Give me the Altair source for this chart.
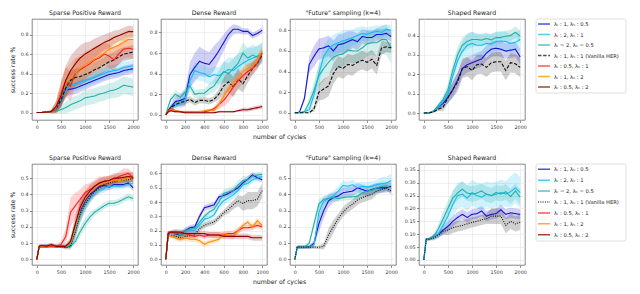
import altair as alt
import pandas as pd

# ---------------- shared values ----------------
X2K = [0, 50, 100, 200, 300, 400, 500, 600, 700, 800, 900, 1000, 1100, 1200, 1300, 1400, 1500, 1600, 1700, 1800, 1900, 2000]
X1K = [0, 25, 50, 100, 150, 200, 250, 300, 350, 400, 450, 500, 550, 600, 650, 700, 750, 800, 850, 900, 950, 1000]

SERIES = ["b", "lb", "t", "k", "r", "o", "dr"]
COLORS = ["#1414d2", "#12bdf5", "#22b0a6", "#111111", "#ff1a1a", "#ff8c00", "#8b0000"]
LABELS = ["λᵣ : 1, λₕ : 0.5", "λᵣ : 2, λₕ : 1", "λᵣ = 2, λₕ = 0.5",
          "λᵣ : 1, λₕ : 1 (Vanilla HER)", "λᵣ : 0.5, λₕ : 1", "λᵣ : 1, λₕ : 2", "λᵣ : 0.5, λₕ : 2"]
TITLES = ["Sparse Positive Reward", "Dense Reward", "\"Future\" sampling (k=4)", "Shaped Reward"]

# ---------------- row 1 : Sparse Positive Reward ----------------
s1_blue = [0, 0, 0, 0.005, 0.01, 0.04, 0.12, 0.23, 0.24, 0.25, 0.27, 0.29, 0.31, 0.33, 0.35, 0.37, 0.39, 0.40, 0.41, 0.43, 0.44, 0.45]
s1_lblue = [0, 0, 0, 0.005, 0.01, 0.04, 0.13, 0.22, 0.28, 0.29, 0.31, 0.33, 0.34, 0.36, 0.38, 0.40, 0.42, 0.43, 0.44, 0.46, 0.47, 0.48]
s1_teal = [0, 0, 0, 0.005, 0.01, 0.01, 0.03, 0.05, 0.08, 0.10, 0.12, 0.15, 0.16, 0.17, 0.19, 0.20, 0.22, 0.23, 0.25, 0.28, 0.27, 0.26]
s1_black = [0, 0, 0, 0.005, 0.01, 0.04, 0.13, 0.25, 0.33, 0.36, 0.37, 0.39, 0.41, 0.44, 0.46, 0.49, 0.52, 0.54, 0.57, 0.60, 0.61, 0.62]
s1_red = [0, 0, 0, 0.005, 0.01, 0.05, 0.20, 0.32, 0.27, 0.41, 0.44, 0.47, 0.50, 0.54, 0.56, 0.60, 0.58, 0.54, 0.60, 0.65, 0.66, 0.65]
s1_orange = [0, 0, 0, 0.005, 0.01, 0.05, 0.19, 0.30, 0.36, 0.41, 0.45, 0.49, 0.52, 0.55, 0.58, 0.61, 0.65, 0.67, 0.69, 0.72, 0.75, 0.75]
s1_dred = [0, 0, 0, 0.005, 0.01, 0.06, 0.17, 0.33, 0.43, 0.50, 0.56, 0.60, 0.63, 0.66, 0.69, 0.72, 0.74, 0.77, 0.79, 0.81, 0.83, 0.83]
s1_blue_sd = [0, 0, 0, 0, 0.01, 0.03, 0.05, 0.06, 0.06, 0.06, 0.06, 0.06, 0.05, 0.05, 0.05, 0.05, 0.05, 0.05, 0.05, 0.05, 0.05, 0.05]
s1_lblue_sd = [0, 0, 0, 0, 0.01, 0.03, 0.06, 0.07, 0.07, 0.07, 0.07, 0.07, 0.06, 0.06, 0.06, 0.06, 0.06, 0.06, 0.06, 0.06, 0.06, 0.06]
s1_teal_sd = [0, 0, 0, 0, 0.01, 0.02, 0.04, 0.06, 0.07, 0.07, 0.07, 0.08, 0.08, 0.08, 0.08, 0.08, 0.08, 0.08, 0.09, 0.09, 0.09, 0.09]
s1_black_sd = [0, 0, 0, 0, 0.01, 0.04, 0.08, 0.10, 0.10, 0.09, 0.09, 0.08, 0.08, 0.08, 0.08, 0.08, 0.08, 0.08, 0.08, 0.07, 0.07, 0.07]
s1_red_sd = [0, 0, 0, 0, 0.02, 0.06, 0.12, 0.15, 0.15, 0.14, 0.13, 0.12, 0.12, 0.12, 0.12, 0.12, 0.12, 0.12, 0.10, 0.10, 0.10, 0.10]
s1_orange_sd = [0, 0, 0, 0, 0.02, 0.06, 0.12, 0.15, 0.15, 0.15, 0.14, 0.14, 0.13, 0.13, 0.12, 0.12, 0.12, 0.11, 0.10, 0.10, 0.10, 0.10]
s1_dred_sd = [0, 0, 0, 0, 0.02, 0.06, 0.12, 0.15, 0.15, 0.14, 0.13, 0.12, 0.10, 0.10, 0.09, 0.08, 0.08, 0.07, 0.06, 0.06, 0.06, 0.06]

# ---------------- row 1 : Dense Reward ----------------
d1_blue = [0, 0.04, 0.07, 0.13, 0.14, 0.16, 0.39, 0.46, 0.52, 0.50, 0.49, 0.55, 0.62, 0.70, 0.78, 0.83, 0.83, 0.81, 0.81, 0.77, 0.79, 0.82]
d1_lblue = [0, 0.03, 0.06, 0.10, 0.11, 0.15, 0.33, 0.43, 0.41, 0.40, 0.37, 0.39, 0.38, 0.41, 0.44, 0.43, 0.47, 0.50, 0.53, 0.55, 0.57, 0.60]
d1_teal = [0, 0.08, 0.15, 0.20, 0.17, 0.22, 0.28, 0.20, 0.21, 0.21, 0.25, 0.28, 0.35, 0.42, 0.40, 0.45, 0.50, 0.60, 0.55, 0.58, 0.56, 0.60]
d1_black = [0, 0.04, 0.07, 0.10, 0.12, 0.13, 0.15, 0.12, 0.14, 0.14, 0.13, 0.15, 0.20, 0.28, 0.32, 0.27, 0.35, 0.30, 0.38, 0.45, 0.50, 0.58]
d1_red = [0, 0.04, 0.06, 0.04, 0.03, 0.03, 0.03, 0.03, 0.03, 0.03, 0.04, 0.06, 0.10, 0.14, 0.20, 0.27, 0.33, 0.38, 0.42, 0.45, 0.50, 0.60]
d1_orange = [0, 0.03, 0.05, 0.04, 0.03, 0.03, 0.03, 0.03, 0.03, 0.04, 0.05, 0.04, 0.10, 0.18, 0.25, 0.30, 0.35, 0.42, 0.45, 0.47, 0.54, 0.62]
d1_dred = [0, 0.03, 0.04, 0.03, 0.03, 0.02, 0.02, 0.02, 0.02, 0.02, 0.02, 0.02, 0.03, 0.03, 0.03, 0.03, 0.04, 0.05, 0.05, 0.06, 0.07, 0.08]
d1_blue_sd = [0, 0.02, 0.03, 0.05, 0.06, 0.08, 0.12, 0.14, 0.14, 0.13, 0.12, 0.12, 0.10, 0.08, 0.06, 0.05, 0.04, 0.03, 0.03, 0.03, 0.03, 0.03]
d1_lblue_sd = [0, 0.02, 0.03, 0.04, 0.05, 0.06, 0.08, 0.08, 0.08, 0.08, 0.08, 0.08, 0.08, 0.10, 0.12, 0.12, 0.12, 0.12, 0.12, 0.10, 0.10, 0.10]
d1_teal_sd = [0, 0.02, 0.03, 0.04, 0.04, 0.04, 0.05, 0.04, 0.04, 0.04, 0.05, 0.06, 0.08, 0.10, 0.10, 0.10, 0.10, 0.10, 0.10, 0.10, 0.10, 0.10]
d1_black_sd = [0, 0.01, 0.02, 0.03, 0.03, 0.03, 0.03, 0.03, 0.03, 0.03, 0.03, 0.03, 0.05, 0.08, 0.10, 0.10, 0.10, 0.08, 0.07, 0.06, 0.05, 0.05]
d1_red_sd = [0, 0.01, 0.02, 0.01, 0.01, 0.01, 0.01, 0.01, 0.01, 0.01, 0.01, 0.02, 0.04, 0.06, 0.08, 0.08, 0.08, 0.07, 0.07, 0.06, 0.06, 0.05]
d1_orange_sd = [0, 0.01, 0.02, 0.01, 0.01, 0.01, 0.01, 0.01, 0.01, 0.01, 0.01, 0.02, 0.03, 0.04, 0.05, 0.05, 0.05, 0.05, 0.05, 0.05, 0.05, 0.05]
d1_dred_sd = [0, 0.01, 0.01, 0.01, 0.01, 0.01, 0.01, 0.01, 0.01, 0.01, 0.01, 0.01, 0.01, 0.01, 0.01, 0.01, 0.01, 0.02, 0.02, 0.02, 0.02, 0.02]

# ---------------- row 1 : "Future" sampling ----------------
f1_blue = [0, 0, 0.01, 0.14, 0.47, 0.55, 0.62, 0.63, 0.65, 0.60, 0.66, 0.67, 0.69, 0.71, 0.69, 0.74, 0.73, 0.73, 0.76, 0.76, 0.77, 0.74]
f1_lblue = [0, 0, 0, 0.01, 0.03, 0.18, 0.38, 0.55, 0.62, 0.66, 0.68, 0.70, 0.71, 0.73, 0.75, 0.77, 0.76, 0.78, 0.79, 0.78, 0.81, 0.80]
f1_teal = [0, 0, 0, 0.01, 0.10, 0.22, 0.36, 0.43, 0.49, 0.54, 0.56, 0.57, 0.61, 0.60, 0.60, 0.63, 0.67, 0.68, 0.68, 0.71, 0.71, 0.63]
f1_black = [0, 0, 0, 0, 0, 0.04, 0.20, 0.23, 0.26, 0.38, 0.45, 0.43, 0.47, 0.46, 0.49, 0.51, 0.49, 0.52, 0.46, 0.63, 0.64, 0.63]
f1_blue_sd = [0, 0, 0.01, 0.03, 0.08, 0.10, 0.10, 0.10, 0.10, 0.10, 0.10, 0.10, 0.10, 0.08, 0.08, 0.07, 0.07, 0.06, 0.06, 0.05, 0.05, 0.05]
f1_lblue_sd = [0, 0, 0, 0.01, 0.03, 0.08, 0.10, 0.10, 0.10, 0.10, 0.10, 0.10, 0.09, 0.08, 0.08, 0.07, 0.07, 0.06, 0.06, 0.06, 0.05, 0.05]
f1_teal_sd = [0, 0, 0, 0.01, 0.05, 0.08, 0.10, 0.12, 0.12, 0.12, 0.12, 0.12, 0.12, 0.12, 0.12, 0.12, 0.12, 0.12, 0.13, 0.14, 0.15, 0.15]
f1_black_sd = [0, 0, 0, 0, 0, 0.03, 0.08, 0.10, 0.10, 0.10, 0.10, 0.10, 0.10, 0.10, 0.09, 0.09, 0.09, 0.09, 0.09, 0.07, 0.05, 0.05]

# ---------------- row 1 : Shaped Reward ----------------
h1_blue = [0, 0, 0, 0.01, 0.03, 0.05, 0.08, 0.12, 0.17, 0.23, 0.25, 0.26, 0.27, 0.28, 0.31, 0.33, 0.335, 0.33, 0.32, 0.325, 0.33, 0.29]
h1_lblue = [0, 0, 0, 0.01, 0.03, 0.06, 0.10, 0.19, 0.27, 0.32, 0.35, 0.36, 0.35, 0.35, 0.36, 0.357, 0.37, 0.372, 0.37, 0.36, 0.365, 0.38]
h1_teal = [0, 0, 0, 0.01, 0.04, 0.07, 0.12, 0.22, 0.30, 0.35, 0.37, 0.38, 0.38, 0.377, 0.385, 0.378, 0.39, 0.39, 0.397, 0.40, 0.418, 0.397]
h1_black = [0, 0, 0, 0.005, 0.02, 0.03, 0.08, 0.12, 0.16, 0.23, 0.24, 0.22, 0.25, 0.253, 0.236, 0.26, 0.265, 0.265, 0.22, 0.26, 0.255, 0.236]
h1_blue_sd = [0, 0, 0, 0.005, 0.01, 0.02, 0.03, 0.04, 0.04, 0.04, 0.04, 0.04, 0.04, 0.04, 0.04, 0.04, 0.04, 0.04, 0.04, 0.04, 0.04, 0.04]
h1_lblue_sd = [0, 0, 0, 0.005, 0.01, 0.02, 0.03, 0.04, 0.05, 0.05, 0.06, 0.06, 0.06, 0.06, 0.05, 0.05, 0.05, 0.05, 0.05, 0.05, 0.05, 0.05]
h1_teal_sd = [0, 0, 0, 0.005, 0.01, 0.02, 0.03, 0.04, 0.04, 0.04, 0.04, 0.04, 0.03, 0.03, 0.03, 0.03, 0.03, 0.03, 0.03, 0.03, 0.03, 0.03]
h1_black_sd = [0, 0, 0, 0.005, 0.01, 0.02, 0.03, 0.04, 0.05, 0.05, 0.05, 0.05, 0.05, 0.05, 0.05, 0.05, 0.05, 0.05, 0.05, 0.05, 0.05, 0.05]

# ---------------- row 2 : Sparse Positive Reward ----------------
s2_blue = [0, 0.08, 0.08, 0.085, 0.08, 0.08, 0.08, 0.08, 0.10, 0.20, 0.30, 0.36, 0.40, 0.42, 0.45, 0.455, 0.445, 0.46, 0.46, 0.46, 0.47, 0.44]
s2_lblue = [0, 0.08, 0.08, 0.08, 0.08, 0.08, 0.08, 0.08, 0.09, 0.17, 0.27, 0.33, 0.37, 0.41, 0.43, 0.44, 0.45, 0.45, 0.45, 0.455, 0.46, 0.47]
s2_teal = [0, 0.08, 0.08, 0.08, 0.08, 0.08, 0.08, 0.08, 0.08, 0.11, 0.17, 0.22, 0.26, 0.29, 0.31, 0.33, 0.345, 0.345, 0.355, 0.37, 0.385, 0.375]
s2_black = [0, 0.08, 0.08, 0.08, 0.09, 0.08, 0.08, 0.07, 0.08, 0.17, 0.28, 0.34, 0.38, 0.42, 0.44, 0.46, 0.47, 0.477, 0.485, 0.487, 0.49, 0.50]
s2_red = [0, 0.08, 0.08, 0.08, 0.08, 0.08, 0.09, 0.14, 0.29, 0.33, 0.37, 0.41, 0.43, 0.45, 0.47, 0.48, 0.485, 0.49, 0.51, 0.52, 0.53, 0.50]
s2_orange = [0, 0.08, 0.08, 0.08, 0.085, 0.08, 0.08, 0.08, 0.10, 0.19, 0.31, 0.37, 0.41, 0.44, 0.46, 0.47, 0.48, 0.49, 0.485, 0.49, 0.50, 0.51]
s2_dred = [0, 0.08, 0.085, 0.08, 0.09, 0.08, 0.08, 0.08, 0.11, 0.22, 0.32, 0.38, 0.42, 0.45, 0.47, 0.48, 0.485, 0.50, 0.50, 0.505, 0.51, 0.505]
s2_blue_sd = [0, 0.01, 0.01, 0.01, 0.01, 0.01, 0.01, 0.01, 0.02, 0.04, 0.05, 0.04, 0.03, 0.03, 0.03, 0.03, 0.02, 0.02, 0.02, 0.02, 0.02, 0.02]
s2_lblue_sd = [0, 0.01, 0.01, 0.01, 0.01, 0.01, 0.01, 0.01, 0.02, 0.04, 0.05, 0.04, 0.03, 0.03, 0.03, 0.03, 0.02, 0.02, 0.02, 0.02, 0.02, 0.02]
s2_teal_sd = [0, 0.01, 0.01, 0.01, 0.01, 0.01, 0.01, 0.01, 0.01, 0.02, 0.03, 0.03, 0.03, 0.02, 0.02, 0.02, 0.02, 0.02, 0.02, 0.02, 0.02, 0.02]
s2_black_sd = [0, 0.01, 0.01, 0.01, 0.01, 0.01, 0.01, 0.01, 0.02, 0.04, 0.05, 0.04, 0.03, 0.03, 0.03, 0.03, 0.02, 0.02, 0.02, 0.02, 0.02, 0.02]
s2_red_sd = [0, 0.01, 0.01, 0.01, 0.01, 0.01, 0.02, 0.05, 0.09, 0.08, 0.06, 0.05, 0.04, 0.04, 0.04, 0.03, 0.03, 0.03, 0.03, 0.04, 0.03, 0.03]
s2_orange_sd = [0, 0.01, 0.01, 0.01, 0.01, 0.01, 0.01, 0.01, 0.03, 0.05, 0.05, 0.04, 0.04, 0.03, 0.03, 0.03, 0.03, 0.03, 0.03, 0.03, 0.03, 0.03]
s2_dred_sd = [0, 0.01, 0.01, 0.01, 0.01, 0.01, 0.01, 0.01, 0.03, 0.05, 0.05, 0.04, 0.04, 0.03, 0.03, 0.03, 0.03, 0.03, 0.03, 0.03, 0.03, 0.03]

# ---------------- row 2 : Dense Reward ----------------
d2_blue = [0, 0.18, 0.19, 0.18, 0.17, 0.20, 0.22, 0.226, 0.30, 0.36, 0.37, 0.38, 0.435, 0.446, 0.46, 0.48, 0.50, 0.534, 0.56, 0.59, 0.57, 0.556]
d2_lblue = [0, 0.18, 0.18, 0.18, 0.18, 0.19, 0.20, 0.20, 0.24, 0.28, 0.29, 0.31, 0.37, 0.41, 0.43, 0.45, 0.48, 0.52, 0.53, 0.556, 0.567, 0.58]
d2_teal = [0, 0.18, 0.19, 0.19, 0.17, 0.20, 0.21, 0.215, 0.26, 0.30, 0.33, 0.35, 0.40, 0.46, 0.47, 0.48, 0.52, 0.55, 0.556, 0.58, 0.59, 0.593]
d2_black = [0, 0.17, 0.17, 0.16, 0.15, 0.16, 0.165, 0.17, 0.215, 0.237, 0.25, 0.26, 0.29, 0.325, 0.35, 0.38, 0.41, 0.39, 0.41, 0.41, 0.42, 0.48]
d2_red = [0, 0.19, 0.19, 0.18, 0.18, 0.18, 0.17, 0.16, 0.17, 0.16, 0.17, 0.17, 0.17, 0.17, 0.18, 0.18, 0.20, 0.22, 0.22, 0.226, 0.237, 0.226]
d2_orange = [0, 0.17, 0.16, 0.15, 0.14, 0.15, 0.14, 0.14, 0.13, 0.105, 0.12, 0.13, 0.14, 0.18, 0.17, 0.16, 0.20, 0.237, 0.26, 0.226, 0.27, 0.237]
d2_dred = [0, 0.18, 0.19, 0.19, 0.19, 0.18, 0.18, 0.18, 0.18, 0.18, 0.17, 0.17, 0.17, 0.16, 0.16, 0.16, 0.16, 0.16, 0.16, 0.15, 0.15, 0.15]
d2_blue_sd = [0, 0.01, 0.01, 0.02, 0.02, 0.02, 0.02, 0.02, 0.02, 0.02, 0.02, 0.02, 0.02, 0.02, 0.02, 0.02, 0.02, 0.02, 0.02, 0.02, 0.02, 0.02]
d2_lblue_sd = [0, 0.01, 0.01, 0.02, 0.02, 0.02, 0.02, 0.02, 0.02, 0.02, 0.02, 0.02, 0.02, 0.03, 0.03, 0.03, 0.03, 0.03, 0.03, 0.02, 0.02, 0.02]
d2_teal_sd = [0, 0.01, 0.01, 0.02, 0.02, 0.02, 0.02, 0.02, 0.02, 0.02, 0.02, 0.02, 0.02, 0.03, 0.03, 0.03, 0.03, 0.03, 0.03, 0.02, 0.02, 0.02]
d2_black_sd = [0, 0.01, 0.01, 0.02, 0.02, 0.02, 0.02, 0.02, 0.02, 0.02, 0.02, 0.02, 0.02, 0.02, 0.03, 0.03, 0.04, 0.05, 0.06, 0.06, 0.05, 0.05]
d2_red_sd = [0, 0.01, 0.01, 0.02, 0.02, 0.02, 0.02, 0.02, 0.02, 0.02, 0.02, 0.02, 0.02, 0.02, 0.02, 0.02, 0.02, 0.02, 0.02, 0.02, 0.02, 0.02]
d2_orange_sd = [0, 0.01, 0.01, 0.02, 0.02, 0.02, 0.02, 0.02, 0.02, 0.02, 0.02, 0.02, 0.02, 0.02, 0.02, 0.02, 0.02, 0.02, 0.02, 0.02, 0.02, 0.02]
d2_dred_sd = [0, 0.01, 0.01, 0.02, 0.02, 0.02, 0.02, 0.02, 0.02, 0.02, 0.02, 0.02, 0.02, 0.02, 0.02, 0.02, 0.02, 0.02, 0.02, 0.02, 0.02, 0.02]

# ---------------- row 2 : "Future" sampling ----------------
f2_blue = [0, 0.075, 0.075, 0.075, 0.075, 0.10, 0.22, 0.30, 0.36, 0.38, 0.39, 0.41, 0.415, 0.42, 0.44, 0.43, 0.42, 0.43, 0.44, 0.44, 0.44, 0.45]
f2_lblue = [0, 0.075, 0.075, 0.075, 0.075, 0.09, 0.29, 0.36, 0.374, 0.39, 0.42, 0.455, 0.45, 0.46, 0.44, 0.45, 0.445, 0.45, 0.46, 0.465, 0.47, 0.485]
f2_teal = [0, 0.075, 0.075, 0.075, 0.10, 0.22, 0.34, 0.37, 0.375, 0.38, 0.375, 0.38, 0.384, 0.385, 0.388, 0.41, 0.42, 0.426, 0.44, 0.45, 0.45, 0.44]
f2_black = [0, 0.075, 0.075, 0.075, 0.075, 0.075, 0.074, 0.08, 0.15, 0.20, 0.25, 0.29, 0.32, 0.34, 0.365, 0.38, 0.39, 0.40, 0.42, 0.43, 0.44, 0.42]
f2_blue_sd = [0, 0.01, 0.01, 0.01, 0.01, 0.02, 0.05, 0.05, 0.04, 0.03, 0.03, 0.03, 0.03, 0.03, 0.03, 0.03, 0.03, 0.03, 0.03, 0.03, 0.03, 0.03]
f2_lblue_sd = [0, 0.01, 0.01, 0.01, 0.01, 0.02, 0.05, 0.03, 0.03, 0.03, 0.03, 0.03, 0.03, 0.03, 0.03, 0.03, 0.03, 0.03, 0.03, 0.04, 0.04, 0.04]
f2_teal_sd = [0, 0.01, 0.01, 0.01, 0.01, 0.03, 0.03, 0.02, 0.02, 0.02, 0.02, 0.02, 0.02, 0.02, 0.02, 0.03, 0.03, 0.03, 0.03, 0.03, 0.03, 0.03]
f2_black_sd = [0, 0.01, 0.01, 0.01, 0.01, 0.01, 0.01, 0.02, 0.04, 0.04, 0.03, 0.03, 0.03, 0.03, 0.03, 0.03, 0.03, 0.03, 0.02, 0.02, 0.02, 0.02]

# ---------------- row 2 : Shaped Reward ----------------
h2_blue = [0, 0.08, 0.08, 0.09, 0.10, 0.116, 0.13, 0.15, 0.165, 0.177, 0.165, 0.177, 0.18, 0.19, 0.17, 0.177, 0.18, 0.195, 0.177, 0.183, 0.18, 0.177]
h2_lblue = [0, 0.08, 0.08, 0.09, 0.10, 0.134, 0.17, 0.215, 0.25, 0.256, 0.24, 0.262, 0.25, 0.244, 0.256, 0.25, 0.255, 0.262, 0.256, 0.265, 0.28, 0.262]
h2_teal = [0, 0.08, 0.08, 0.09, 0.12, 0.16, 0.20, 0.24, 0.26, 0.275, 0.26, 0.256, 0.26, 0.268, 0.255, 0.25, 0.262, 0.256, 0.265, 0.246, 0.268, 0.244]
h2_black = [0, 0.08, 0.08, 0.085, 0.095, 0.11, 0.116, 0.125, 0.13, 0.134, 0.14, 0.146, 0.15, 0.156, 0.16, 0.17, 0.17, 0.17, 0.134, 0.15, 0.14, 0.146]
h2_blue_sd = [0, 0.005, 0.005, 0.01, 0.01, 0.02, 0.02, 0.02, 0.02, 0.02, 0.02, 0.02, 0.02, 0.02, 0.02, 0.02, 0.02, 0.02, 0.02, 0.02, 0.02, 0.02]
h2_lblue_sd = [0, 0.005, 0.005, 0.01, 0.02, 0.03, 0.04, 0.05, 0.05, 0.05, 0.05, 0.05, 0.05, 0.05, 0.05, 0.05, 0.05, 0.05, 0.05, 0.06, 0.06, 0.06]
h2_teal_sd = [0, 0.005, 0.005, 0.01, 0.02, 0.03, 0.03, 0.03, 0.03, 0.03, 0.03, 0.03, 0.03, 0.03, 0.03, 0.03, 0.03, 0.03, 0.03, 0.03, 0.03, 0.03]
h2_black_sd = [0, 0.005, 0.005, 0.01, 0.01, 0.01, 0.02, 0.02, 0.02, 0.02, 0.02, 0.02, 0.02, 0.02, 0.02, 0.03, 0.03, 0.03, 0.03, 0.03, 0.03, 0.03]

# ---------------- build table ----------------
records = []


def add(row, col, xs, key, ys, sd):
    for x, y, s in zip(xs, ys, sd):
        records.append({"row": row, "col": col, "series": key, "x": x, "y": y, "lo": y - s, "hi": y + s})


for key, ys, sd in [("b", s1_blue, s1_blue_sd), ("lb", s1_lblue, s1_lblue_sd), ("t", s1_teal, s1_teal_sd),
                    ("k", s1_black, s1_black_sd), ("r", s1_red, s1_red_sd), ("o", s1_orange, s1_orange_sd),
                    ("dr", s1_dred, s1_dred_sd)]:
    add(0, 0, X2K, key, ys, sd)
for key, ys, sd in [("b", d1_blue, d1_blue_sd), ("lb", d1_lblue, d1_lblue_sd), ("t", d1_teal, d1_teal_sd),
                    ("k", d1_black, d1_black_sd), ("r", d1_red, d1_red_sd), ("o", d1_orange, d1_orange_sd),
                    ("dr", d1_dred, d1_dred_sd)]:
    add(0, 1, X1K, key, ys, sd)
for key, ys, sd in [("b", f1_blue, f1_blue_sd), ("lb", f1_lblue, f1_lblue_sd), ("t", f1_teal, f1_teal_sd),
                    ("k", f1_black, f1_black_sd)]:
    add(0, 2, X2K, key, ys, sd)
for key, ys, sd in [("b", h1_blue, h1_blue_sd), ("lb", h1_lblue, h1_lblue_sd), ("t", h1_teal, h1_teal_sd),
                    ("k", h1_black, h1_black_sd)]:
    add(0, 3, X2K, key, ys, sd)
for key, ys, sd in [("b", s2_blue, s2_blue_sd), ("lb", s2_lblue, s2_lblue_sd), ("t", s2_teal, s2_teal_sd),
                    ("k", s2_black, s2_black_sd), ("r", s2_red, s2_red_sd), ("o", s2_orange, s2_orange_sd),
                    ("dr", s2_dred, s2_dred_sd)]:
    add(1, 0, X2K, key, ys, sd)
for key, ys, sd in [("b", d2_blue, d2_blue_sd), ("lb", d2_lblue, d2_lblue_sd), ("t", d2_teal, d2_teal_sd),
                    ("k", d2_black, d2_black_sd), ("r", d2_red, d2_red_sd), ("o", d2_orange, d2_orange_sd),
                    ("dr", d2_dred, d2_dred_sd)]:
    add(1, 1, X1K, key, ys, sd)
for key, ys, sd in [("b", f2_blue, f2_blue_sd), ("lb", f2_lblue, f2_lblue_sd), ("t", f2_teal, f2_teal_sd),
                    ("k", f2_black, f2_black_sd)]:
    add(1, 2, X2K, key, ys, sd)
for key, ys, sd in [("b", h2_blue, h2_blue_sd), ("lb", h2_lblue, h2_lblue_sd), ("t", h2_teal, h2_teal_sd),
                    ("k", h2_black, h2_black_sd)]:
    add(1, 3, X2K, key, ys, sd)

df = pd.DataFrame(records)

# axis settings per panel: (x domain, x ticks, y domain, y ticks, y format)
T2K = [0, 500, 1000, 1500, 2000]
T1K = [0, 200, 400, 600, 800, 1000]
AXES = {
    (0, 0): ([-100, 2100], T2K, [-0.077, 0.96], [0, 0.2, 0.4, 0.6, 0.8], ".1f"),
    (0, 1): ([-50, 1050], T1K, [-0.05, 0.93], [0, 0.2, 0.4, 0.6, 0.8], ".1f"),
    (0, 2): ([-100, 2100], T2K, [-0.07, 0.91], [0, 0.2, 0.4, 0.6, 0.8], ".1f"),
    (0, 3): ([-100, 2100], T2K, [-0.036, 0.486], [0, 0.1, 0.2, 0.3, 0.4], ".1f"),
    (1, 0): ([-100, 2100], T2K, [-0.035, 0.587], [0, 0.1, 0.2, 0.3, 0.4, 0.5], ".1f"),
    (1, 1): ([-50, 1050], T1K, [-0.04, 0.666], [0, 0.1, 0.2, 0.3, 0.4, 0.5, 0.6], ".1f"),
    (1, 2): ([-100, 2100], T2K, [-0.035, 0.587], [0, 0.1, 0.2, 0.3, 0.4, 0.5], ".1f"),
    (1, 3): ([-100, 2100], T2K, [-0.02, 0.373], [0, 0.05, 0.1, 0.15, 0.2, 0.25, 0.3, 0.35], ".2f"),
}
DASHES = [
    [[1, 0], [1, 0], [1, 0], [3.5, 1.6], [1, 0], [1, 0], [1, 0]],
    [[1, 0], [1, 0], [1, 0], [1, 1.3], [1, 0], [1, 0], [1, 0]],
]

W, H = 106, 101
LEG_W = 78


def panel(row, col):
    xdom, xticks, ydom, yticks, yfmt = AXES[(row, col)]
    d = df[(df["row"] == row) & (df["col"] == col)]
    color = alt.Color("series:N", scale=alt.Scale(domain=SERIES, range=COLORS), legend=None)
    dash = alt.StrokeDash("series:N", scale=alt.Scale(domain=SERIES, range=DASHES[row]), legend=None)
    xkw = dict(values=xticks, format="d")
    if col == 1:
        xkw.update(title="number of cycles", titleX=118, titlePadding=5)
    else:
        xkw.update(title="")
    xaxis = alt.Axis(**xkw)
    yaxis = alt.Axis(values=yticks, format=yfmt, title="success rate %" if col == 0 else "", titlePadding=5)
    xs = alt.Scale(domain=xdom, nice=False, zero=False)
    ys = alt.Scale(domain=ydom, nice=False, zero=False)
    base = alt.Chart(d)
    band = base.mark_area(opacity=0.2, clip=True).encode(
        x=alt.X("x:Q", scale=xs, axis=xaxis),
        y=alt.Y("lo:Q", scale=ys, axis=yaxis),
        y2="hi:Q",
        color=color,
    )
    line = base.mark_line(strokeWidth=1.1, clip=True).encode(
        x=alt.X("x:Q", scale=xs, axis=xaxis),
        y=alt.Y("y:Q", scale=ys, axis=yaxis),
        color=color,
        strokeDash=dash,
    )
    return alt.layer(band, line).properties(width=W, height=H, title=TITLES[col])


def legend(row):
    lh = 74 if row == 0 else 77
    ld = pd.DataFrame({"series": SERIES, "label": LABELS, "idx": list(range(7))})
    color = alt.Color("series:N", scale=alt.Scale(domain=SERIES, range=COLORS), legend=None)
    dash = alt.StrokeDash("series:N", scale=alt.Scale(domain=SERIES, range=DASHES[row]), legend=None)
    yl = alt.Y("idx:Q", scale=alt.Scale(domain=[6.57, -0.48], nice=False, zero=False), axis=None)
    box = alt.Chart(pd.DataFrame({"v": [0]})).mark_rect(
        fill="white", stroke="#d6d6d6", strokeWidth=0.8, cornerRadius=2
    ).encode(x=alt.value(-12), x2=alt.value(LEG_W), y=alt.value(0), y2=alt.value(lh))
    sw = alt.Chart(ld).mark_rule(strokeWidth=1.5, opacity=0.75).encode(
        x=alt.value(-10), x2=alt.value(2), y=yl, color=color, strokeDash=dash
    )
    tx = alt.Chart(ld).mark_text(align="left", baseline="middle", fontSize=5.2, color="#222").encode(
        x=alt.value(6), y=yl, text="label:N"
    )
    return alt.layer(box, sw, tx).properties(
        width=LEG_W, height=lh, view=alt.ViewBackground(stroke="transparent")
    )


cells = []
for r in range(2):
    for c in range(4):
        cells.append(panel(r, c))
    cells.append(legend(r))

chart = (
    alt.concat(*cells, columns=5, spacing={"row": 44, "column": 23}, bounds="flush", align="each")
    .resolve_scale(color="independent", strokeDash="independent")
    .properties(padding={"left": 1, "top": 1, "right": 1, "bottom": 1})
    .configure(font="DejaVu Sans")
    .configure_view(stroke="#555555", strokeWidth=0.7)
    .configure_axis(
        grid=True, gridColor="#e4e4e4", gridWidth=0.6, domain=False,
        tickColor="#444444", tickSize=2.5, tickWidth=0.6,
        labelFontSize=4.8, labelColor="#333333", labelPadding=1.5,
        titleFontSize=6.2, titleFontWeight="normal", titleColor="#222222",
    )
    .configure_title(fontSize=6.2, fontWeight="normal", color="#222222", offset=3, anchor="middle")
)

chart.save("out.html", embed_options={"renderer": "svg", "actions": False})
